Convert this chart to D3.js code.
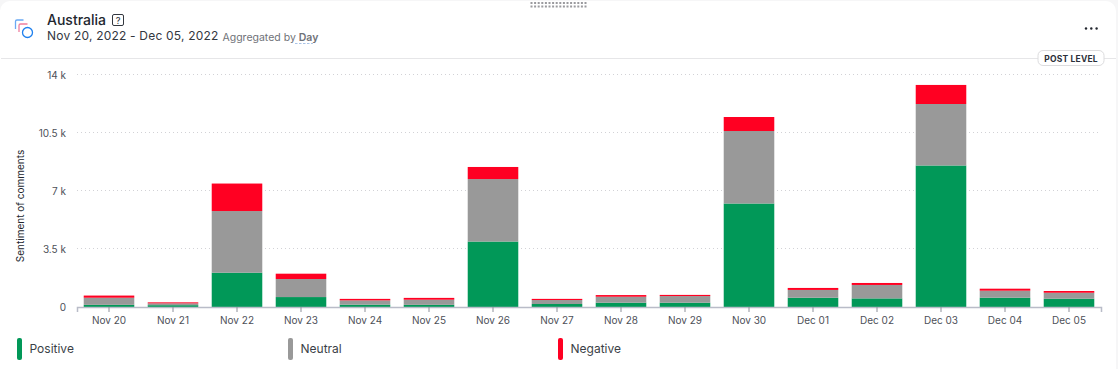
<!DOCTYPE html>
<html>
<head>
<meta charset="utf-8">
<script src="https://cdn.jsdelivr.net/npm/d3@7"></script>
<style>
  html, body { margin: 0; padding: 0; background: #f6f6f7; overflow: hidden; }
  text { font-family: Inter, "Noto Sans", sans-serif; }
</style>
</head>
<body>
<div id="chart"></div>
<script>
// values
const days = ["Nov 20", "Nov 21", "Nov 22", "Nov 23", "Nov 24", "Nov 25", "Nov 26", "Nov 27",
  "Nov 28", "Nov 29", "Nov 30", "Dec 01", "Dec 02", "Dec 03", "Dec 04", "Dec 05"];
const positive = [130, 110, 2070, 600, 140, 130, 3950, 180, 260, 260, 6245, 560, 520, 8540, 560, 500];
const neutral = [430, 110, 3720, 1090, 260, 310, 3770, 240, 360, 400, 4375, 470, 810, 3710, 425, 360];
const negative = [130, 60, 1660, 320, 90, 110, 730, 70, 100, 70, 845, 120, 120, 1150, 120, 105];
const yTicks = [0, 3500, 7000, 10500, 14000];
const yTickLabels = ["0", "3.5 k", "7 k", "10.5 k", "14 k"];
const seriesNames = ["Positive", "Neutral", "Negative"];
const seriesColors = ["#019858", "#999999", "#ff0022"];

const W = 1118, H = 369;
const svg = d3.select("#chart").append("svg")
  .attr("width", W).attr("height", H)
  .style("display", "block");

// card
svg.append("rect")
  .attr("x", 0).attr("y", 1).attr("width", 1116).attr("height", H + 20)
  .attr("rx", 10).attr("fill", "#fff");
svg.append("line")
  .attr("x1", 1).attr("x2", 1116).attr("y1", 58.5).attr("y2", 58.5)
  .attr("stroke", "#e6e6e8").attr("stroke-width", 1);

// drag handle
const handle = svg.append("g").attr("fill", "#9a9a9e");
d3.range(16).forEach(i => {
  [2, 5.5].forEach(y => {
    handle.append("rect").attr("x", 530.5 + i * 3.6).attr("y", y).attr("width", 2).attr("height", 2);
  });
});

// header icon
const icon = svg.append("g").attr("fill", "none").attr("stroke-width", 1.3);
icon.append("path").attr("d", "M15.5 29 V21.5 Q15.5 20 17 20 H23.5").attr("stroke", "#6aa9f4");
icon.append("path").attr("d", "M19 32 V25.5 Q19 24 20.5 24 H27.5").attr("stroke", "#ef7f9f");
icon.append("circle").attr("cx", 27.5).attr("cy", 32.5).attr("r", 5).attr("stroke", "#1f80ee");

// header text
svg.append("text").attr("x", 47).attr("y", 25)
  .attr("font-size", 14).attr("font-weight", 500).attr("fill", "#22262e").text("Australia");
svg.append("rect").attr("x", 112.5).attr("y", 14.5).attr("width", 11).attr("height", 11)
  .attr("rx", 1.5).attr("fill", "none").attr("stroke", "#33373f").attr("stroke-width", 1);
svg.append("text").attr("x", 118).attr("y", 23.5).attr("text-anchor", "middle")
  .attr("font-size", 9).attr("font-weight", 500).attr("fill", "#33373f").text("?");
svg.append("text").attr("x", 47).attr("y", 40)
  .attr("font-size", 12).attr("fill", "#33373f").attr("letter-spacing", 0.2).text("Nov 20, 2022 - Dec 05, 2022");
const agg = svg.append("text").attr("x", 222.5).attr("y", 41)
  .attr("font-size", 10.5).attr("fill", "#6f7278");
agg.append("tspan").text("Aggregated by ");
agg.append("tspan").attr("font-weight", 600).attr("fill", "#6f7278").text("Day");
svg.append("line").attr("x1", 295).attr("x2", 313).attr("y1", 43.5).attr("y2", 43.5)
  .attr("stroke", "#a9c3e6").attr("stroke-dasharray", "2.5 1.5");

// more menu
svg.append("g").selectAll("circle").data([0, 1, 2]).enter().append("circle")
  .attr("cx", d => 1086 + d * 5.3).attr("cy", 28.5).attr("r", 1.2).attr("fill", "#22262e");

// post level badge
svg.append("rect").attr("x", 1038).attr("y", 50.5).attr("width", 66).attr("height", 15)
  .attr("rx", 5).attr("fill", "#fff").attr("stroke", "#dcdcde");
svg.append("text").attr("x", 1071).attr("y", 61.5).attr("text-anchor", "middle")
  .attr("font-size", 8.5).attr("font-weight", 700).attr("letter-spacing", 0.2)
  .attr("fill", "#2b303a").text("POST LEVEL");

// scales
const x = d3.scaleBand().domain(days).range([77, 1101]).paddingInner(0.21).paddingOuter(0.105);
const y = d3.scaleLinear().domain([0, 14000]).range([307, 75]);

// grid
svg.append("g").selectAll("line").data(yTicks.slice(1)).enter().append("line")
  .attr("x1", 77).attr("x2", 1101)
  .attr("y1", d => y(d) - 0.5).attr("y2", d => y(d) - 0.5)
  .attr("stroke", "#d2d2d6").attr("stroke-dasharray", "1 3");

// stacked bars
const rows = days.map((d, i) => ({ day: d, Positive: positive[i], Neutral: neutral[i], Negative: negative[i] }));
const stack = d3.stack().keys(seriesNames)(rows);
svg.append("g").selectAll("g").data(stack).enter().append("g")
  .attr("fill", (d, i) => seriesColors[i])
  .selectAll("rect").data(d => d).enter().append("rect")
  .attr("x", d => x(d.data.day))
  .attr("y", d => y(d[1]))
  .attr("width", x.bandwidth())
  .attr("height", d => y(d[0]) - y(d[1]));

// x axis
const xAxis = svg.append("g").attr("transform", "translate(0,307)")
  .call(d3.axisBottom(x).tickSize(5).tickPadding(5));
xAxis.select(".domain").attr("stroke", "#b9bcc8").attr("stroke-width", 1.5);
xAxis.selectAll(".tick line").attr("stroke", "#8d909a");
xAxis.selectAll("text").attr("font-size", 10).attr("fill", "#4d5058")
  .style("font-family", "Inter, sans-serif");

// y axis
const yAxis = svg.append("g").attr("transform", "translate(77,0)")
  .call(d3.axisLeft(y).tickValues(yTicks).tickFormat((d, i) => yTickLabels[i]).tickSize(0).tickPadding(11));
yAxis.select(".domain").remove();
yAxis.selectAll("text").attr("font-size", 10).attr("fill", "#4d5058")
  .style("font-family", "Inter, sans-serif");

svg.append("text")
  .attr("transform", "translate(24,206) rotate(-90)")
  .attr("text-anchor", "middle")
  .attr("font-size", 10).attr("fill", "#22262e").text("Sentiment of comments");

// legend
const legendX = [17, 288, 558];
const legend = svg.append("g").selectAll("g").data(seriesNames).enter().append("g")
  .attr("transform", (d, i) => `translate(${legendX[i]},338)`);
legend.append("rect").attr("width", 5).attr("height", 22).attr("rx", 2)
  .attr("fill", (d, i) => seriesColors[i]);
legend.append("text").attr("x", 12.5).attr("y", 15)
  .attr("font-size", 12).attr("fill", "#3b3f47").text(d => d);
</script>
</body>
</html>
